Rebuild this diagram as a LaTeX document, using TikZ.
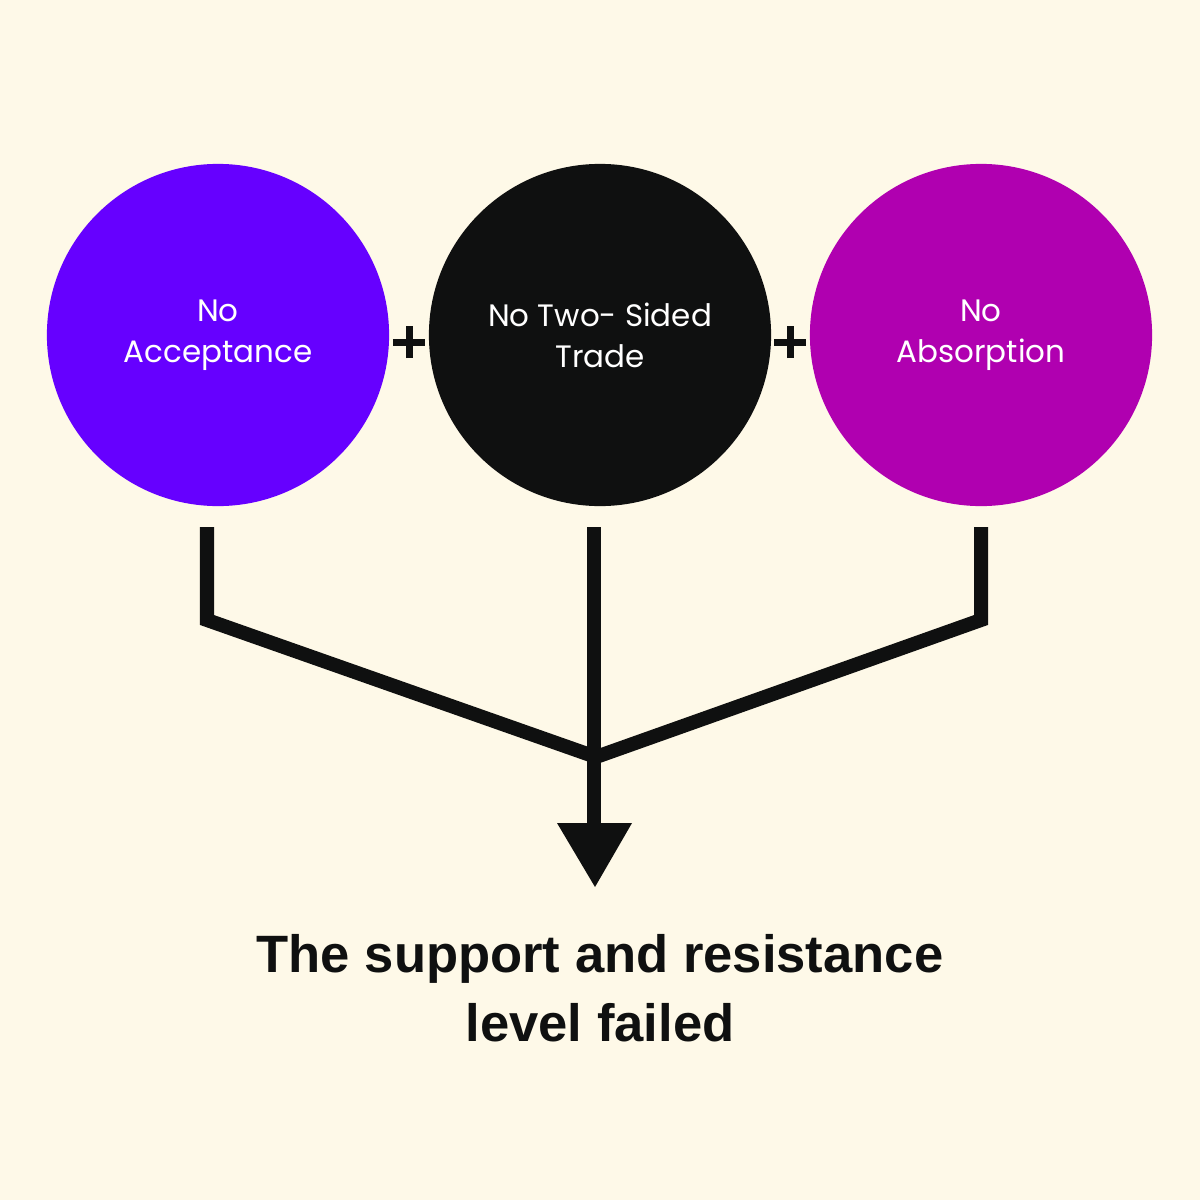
\documentclass[tikz,border=0pt]{standalone}
\usepackage{fontspec}
\setmainfont{Poppins}
\newfontfamily\boldfont{Liberation Sans}
\definecolor{bg}{HTML}{FEF9E8}
\definecolor{cpurple}{HTML}{6600FF}
\definecolor{cblack}{HTML}{0F1010}
\definecolor{cmagenta}{HTML}{B000B0}
\begin{document}
\begin{tikzpicture}[x=0.01cm,y=-0.01cm,
  circ/.style={circle, minimum size=3.42cm, inner sep=0pt, text=white, align=center,
    font=\fontsize{8.8pt}{11.7pt}\selectfont},
  conn/.style={draw=cblack, line width=14*0.2845pt},
  plus/.style={draw=cblack, line width=7*0.2845pt}]
\fill[bg] (0,0) rectangle (1200,1200);
\useasboundingbox (0,0) rectangle (1200,1200);
\node[circ, fill=cpurple] (c1) at (218,335) {No\\Acceptance};
\node[circ, fill=cblack] (c2) at (600,335) {No Two- Sided\\Trade};
\node[circ, fill=cmagenta] (c3) at (981,335) {No\\Absorption};
% plus signs
\coordinate (p1) at (409,342);
\coordinate (p2) at (790,342);
\foreach \p in {p1,p2}{
  \draw[plus] ([xshift=-0.16cm]\p) -- ([xshift=0.16cm]\p);
  \draw[plus] ([yshift=-0.16cm]\p) -- ([yshift=0.16cm]\p);
}
% connectors
\coordinate (l0) at (207,527);
\coordinate (l1) at (207,620);
\coordinate (m0) at (594,527);
\coordinate (j) at (596,757);
\coordinate (r0) at (981,527);
\coordinate (r1) at (981,620);
\coordinate (ab) at (594,830);
\draw[conn, line join=miter] (l0) -- (l1) -- (j);
\draw[conn, line join=miter] (r0) -- (r1) -- (j);
\draw[conn] (m0) -- (ab);
\fill[cblack] (557,823) -- (632,823) -- (595,887) -- cycle;
\node[font=\boldfont\bfseries\fontsize{14.95pt}{19.6pt}\selectfont, text=cblack, align=center] (t) at (600,988)
  {The support and resistance\\level failed};
\end{tikzpicture}
\end{document}
